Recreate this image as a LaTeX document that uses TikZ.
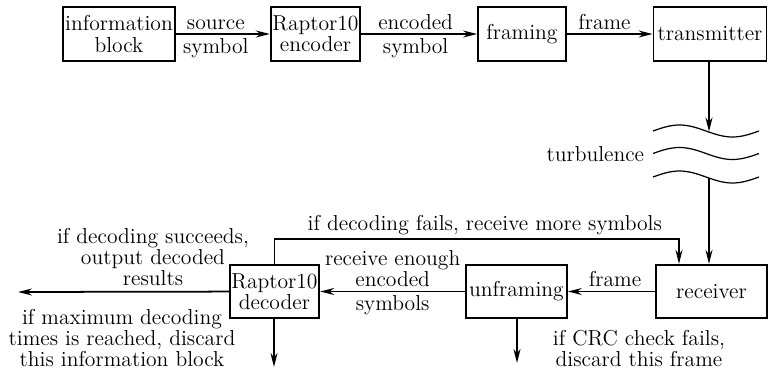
\documentclass[tikz,border=0pt]{standalone}
\usetikzlibrary{positioning, arrows.meta}

\begin{document}
\begin{tikzpicture}[x=0.02cm, y=-0.02cm, font=\fontsize{12.3}{12}\selectfont,
    block/.style={draw, line width=1pt, minimum height=1.07cm, inner sep=1pt, align=center},
    note/.style={align=center, inner sep=2pt},
    flow/.style={line width=1pt, -{Stealth[length=2.8mm, width=1.4mm]}}]
    \useasboundingbox (0,0) rectangle (772,368);

    % Draw transmitting chain
    \node[block, minimum width=2.24cm] (info) at (119,34) {information\\block};
    \node[block, minimum width=1.74cm] (enc) at (315.5,34) {Raptor10\\encoder};
    \node[block, minimum width=1.76cm] (frm) at (522,34) {framing};
    \node[block, minimum width=2.26cm] (tx) at (710,34) {transmitter};

    \draw[flow] (info) -- node[note, above, xshift=-4pt] (src1) {source} node[note, below, xshift=-4pt] (src2) {symbol} (enc);
    \draw[flow] (enc) -- node[note, above, xshift=-2pt] (enc1) {encoded} node[note, below, xshift=-2pt] (enc2) {symbol} (frm);
    \draw[flow] (frm) -- node[note, above, xshift=-3pt] (frm1) {frame} (tx);

    % Draw turbulence waves
    \foreach \y in {131, 153.5, 177} {
      \draw[line width=0.7pt] (653,\y) sin (679.5,\y-6) cos (706,\y) sin (732.5,\y+6) cos (759,\y);
    }
    \coordinate (w1) at (709,131.5);
    \coordinate (w3) at (709,178);
    \node[note, anchor=east] (turb) at (648,154) {turbulence};

    \draw[flow] (tx.south -| w1) -- (w1);

    % Draw receiving chain
    \node[block, minimum width=2.22cm] (rx) at (711.5,291.5) {receiver};
    \node[block, minimum width=2.02cm] (unf) at (516.5,291.5) {unframing};
    \node[block, minimum width=1.76cm] (dec) at (274.5,291.5) {Raptor10\\decoder};

    \draw[flow] (w3) -- (rx.north -| w3);
    \draw[flow] (rx) -- node[note, above, xshift=2pt] (frm2) {frame} (unf);
    \draw[flow] (unf) -- node[note, above] (rcv1) {receive enough\\encoded} node[note, below] (rcv2) {symbols} (dec);

    % Feedback when decoding fails
    \coordinate (fbk) at (679,239);
    \draw[flow] (dec.north) |- node[note, pos=0.76, above=0pt] (more) {if decoding fails, receive more symbols} (fbk) -- (fbk |- rx.north);

    % Outputs
    \coordinate (outl) at (18,292);
    \coordinate (outd) at (274,367);
    \coordinate (outu) at (517,363);
    \draw[flow] (dec) -- (outl);
    \draw[flow] (dec.south -| outd) -- (outd);
    \draw[flow] (unf.south -| outu) -- (outu);

    \node[note, anchor=south] (ok) at (153,290) {if decoding succeeds,\\output decoded\\results};
    \node[note, anchor=north] (drop) at (122,305) {if maximum decoding\\times is reached, discard\\this information block};
    \node[note, anchor=north] (crc) at (639,326) {if CRC check fails,\\discard this frame};
\end{tikzpicture}
\end{document}
